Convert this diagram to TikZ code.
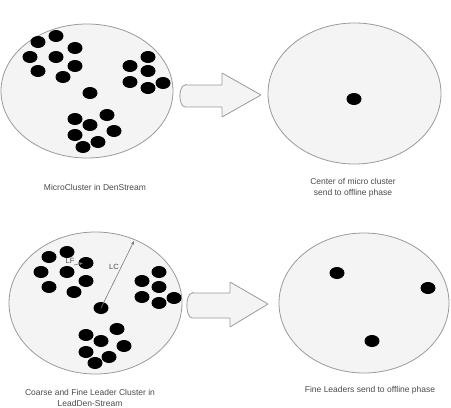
\documentclass[tikz,border=0pt]{standalone}
\usepackage{fontspec}
\setmainfont{Liberation Sans}
\usetikzlibrary{shapes.geometric,arrows.meta}
\definecolor{txt}{HTML}{4A4A4A}
\definecolor{edge}{HTML}{9A9A9A}
\definecolor{fillc}{HTML}{F4F4F4}
\tikzset{
  cluster/.style={ellipse,draw=edge,line width=0.8pt,fill=fillc,inner sep=0pt},
  dot/.style={ellipse,fill=black,minimum width=15pt,minimum height=12pt,inner sep=0pt},
  captext/.style={text=txt,font=\fontsize{8.5}{11}\selectfont,align=center,inner sep=0pt},
  bigarrow/.style={draw=edge,line width=0.8pt,fill=fillc,rounded corners=0.6pt},
  ptr/.style={draw=edge!80!black,line width=0.6pt,-{Stealth[length=4pt,width=3pt]}},
  lbl/.style={text=txt,font=\fontsize{7.5}{8}\selectfont,inner sep=0pt}
}
\begin{document}
\begin{tikzpicture}[x=1pt,y=-1pt]
\useasboundingbox (0,0) rectangle (451,408);
% top-left cluster
\node[cluster,minimum width=172pt,minimum height=134pt] (c1) at (87,91) {};
\foreach \x/\y in {38/42,56/36,75/48,30/57,56/57,75/66,38/71,63/77,
  130/66,148/57,148/71,130/82,148/88,163/83,90/93,
  107/115,75/119,90/125,114/131,75/135,98/142,83/147}
  \node[dot] at (\x,\y) {};
% top arrow
\draw[bigarrow] (186,85) -- (222,85) -- (222,73) -- (261,95) -- (222,117) -- (222,107) -- (186,107)
  .. controls (178,107) and (178,85) .. (186,85) -- cycle;
% top-right cluster
\node[cluster,minimum width=173pt,minimum height=141pt] (c2) at (354.5,93.5) {};
\node[dot] (cc) at (354,99) {};
\node[captext] (t1) at (95,187) {MicroCluster in DenStream};
\node[captext] (t2) at (353,187.5) {Center of micro cluster\\send to offline phase};
% bottom-left cluster
\node[cluster,minimum width=173pt,minimum height=142pt] (c3) at (95.5,303) {};
\foreach \x/\y in {49/257,67/252,41/272,67/272,86/281,49/287,74/292,
  159/272,142/281,159/287,142/297,159/303,174/298,
  117/329,86/335,101/341,124/346,86/352,109/357,95/363}
  \node[dot] at (\x,\y) {};
\node[dot] (lf) at (86,263) {};
\node[dot] (lc) at (101,308) {};
\coordinate (lcend) at (134,241);
\coordinate (lfstart) at (74,265);
\draw[ptr] (lc.center) -- (lcend);
\draw[ptr] (lfstart) -- (83,263);
\node[lbl] (lflbl) at (70,261) {LF};
\node[lbl] (lclbl) at (114,267) {LC};
% bottom arrow
\draw[bigarrow] (193,293) -- (230,293) -- (230,282) -- (268,304) -- (230,327) -- (230,318) -- (193,318)
  .. controls (185,318) and (185,293) .. (193,293) -- cycle;
% bottom-right cluster
\node[cluster,minimum width=170pt,minimum height=140pt] (c4) at (364,303) {};
\node[dot] (f1) at (337,273) {};
\node[dot] (f2) at (428,288) {};
\node[dot] (f3) at (372,341) {};
\node[captext] (t3) at (90,397.5) {Coarse and Fine Leader Cluster in\\LeadDen-Stream};
\node[captext] (t4) at (370,390) {Fine Leaders send to offline phase};
\end{tikzpicture}
\end{document}
